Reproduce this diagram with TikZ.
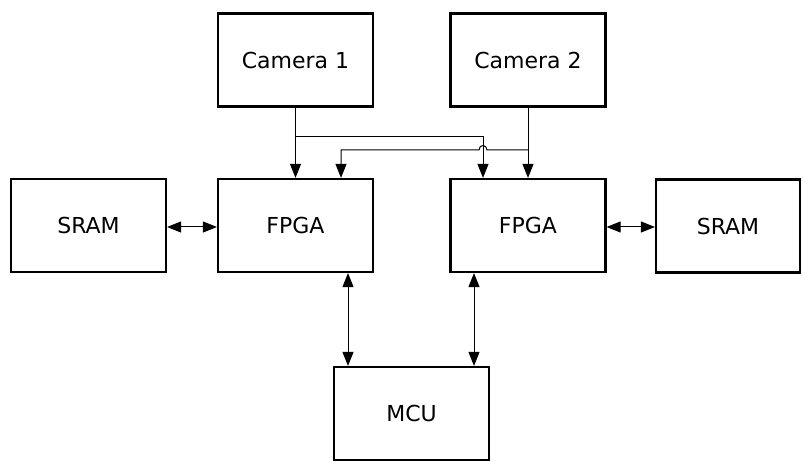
\documentclass[tikz,border=0pt]{standalone}
\usepackage{fontspec}
\setmainfont{DejaVu Sans}
\usetikzlibrary{arrows.meta}
\begin{document}
\begin{tikzpicture}[x=1pt,y=-1pt,
  blk/.style={draw,line width=2.2pt,minimum width=155pt,minimum height=93pt,inner sep=0pt,font=\fontsize{22}{26}\selectfont},
  conn/.style={line width=1pt},
  tip/.style={-{Triangle[length=14pt,width=11pt]}},
  dtip/.style={{Triangle[length=14pt,width=11pt]}-{Triangle[length=14pt,width=11pt]}}]
\useasboundingbox (0,0) rectangle (803,462);
\node[blk] (c1) at (295.5,60) {Camera 1};
\node[blk] (c2) at (528,60) {Camera 2};
\node[blk] (s1) at (88.5,225.5) {SRAM};
\node[blk] (f1) at (295.5,225.5) {FPGA};
\node[blk] (f2) at (528,225.5) {FPGA};
\node[blk,minimum width=144pt] (s2) at (728,226) {SRAM};
\node[blk] (m) at (411.5,413.5) {MCU};
% branch points
\coordinate (j1) at (295.5,137);
\coordinate (t2) at (483,137);
\coordinate (j2) at (528,150);
\coordinate (h1) at (487,150);
\coordinate (h2) at (479,150);
\coordinate (t1) at (341,150);
\draw[conn,tip] (c1) -- (f1);
\draw[conn,tip] (c2) -- (f2);
\draw[conn,tip] (j1) -- (t2) -- (t2 |- f2.north);
\draw[conn,tip] (j2) -- (h1) .. controls (487,144) and (479,144) .. (h2) -- (t1) -- (t1 |- f1.north);
% bidirectional
\draw[conn,dtip] (s1.east |- 0,227) -- (f1.west |- 0,227);
\draw[conn,dtip] (f2.east |- 0,227) -- (s2.west |- 0,227);
\coordinate (b1) at (348,0);
\coordinate (b2) at (474,0);
\draw[conn,dtip] (b1 |- f1.south) -- (b1 |- m.north);
\draw[conn,dtip] (b2 |- f2.south) -- (b2 |- m.north);
\end{tikzpicture}
\end{document}
